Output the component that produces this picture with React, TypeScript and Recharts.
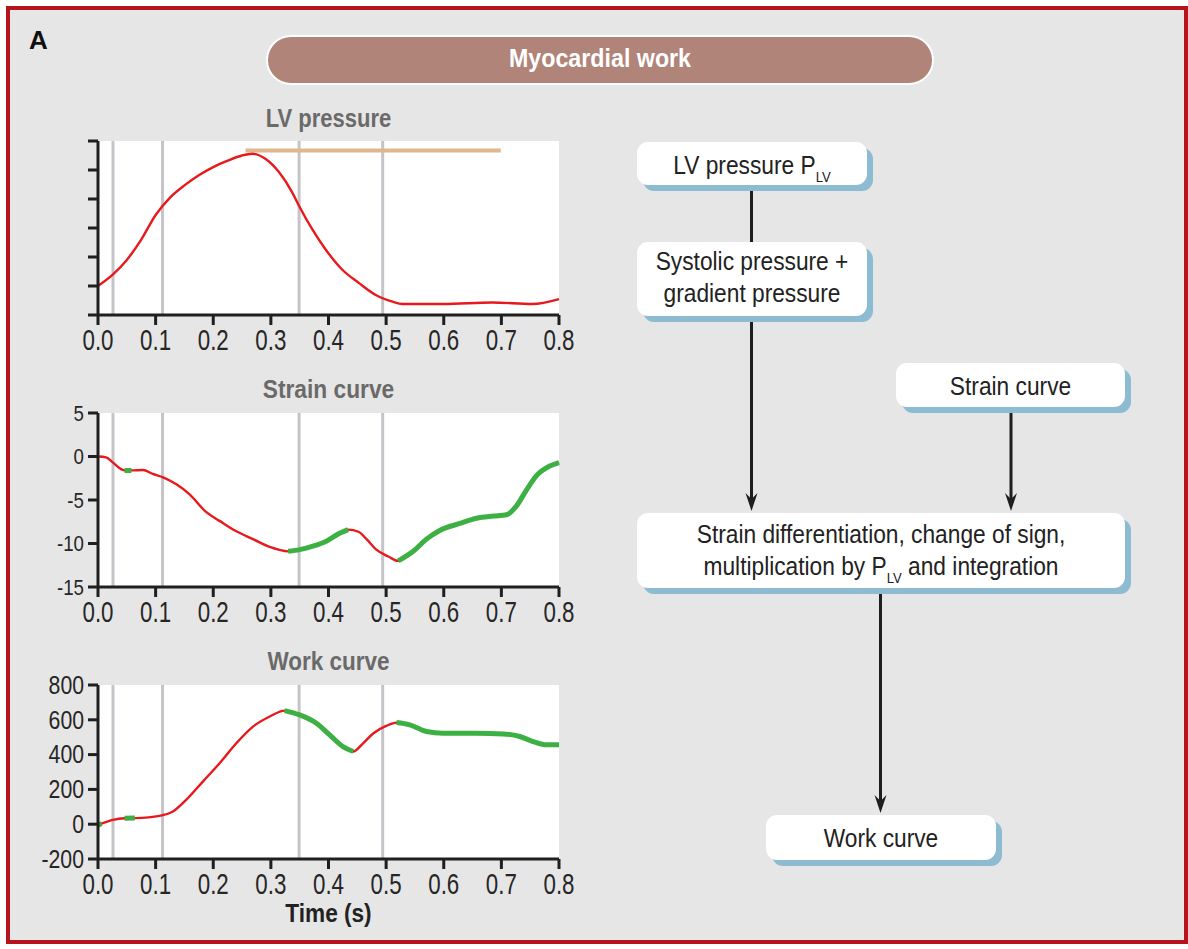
import React from 'react';
import { LineChart, Line, XAxis, YAxis, CartesianGrid, ReferenceLine } from 'recharts';

const SANS = "'Liberation Sans', Arial, sans-serif";
const RED = '#e8191c';
const GREEN = '#3cb043';
const GRAY = '#c4c4c9';
const INK = '#262626';

// shared time axis
const timeTicks = [0, 0.1, 0.2, 0.3, 0.4, 0.5, 0.6, 0.7, 0.8];
const eventTimes = [0.026, 0.112, 0.349, 0.494];
const ejectionBar = [0.256, 0.699];
const ejectionLevel = 5.67;

// LV pressure (arbitrary units, no labels)
const lvTime = [0, 0.025, 0.05, 0.075, 0.1, 0.125, 0.15, 0.175, 0.2, 0.225, 0.25, 0.268, 0.291, 0.314, 0.337, 0.349, 0.372, 0.395, 0.424, 0.453, 0.482, 0.511, 0.528, 0.6, 0.684, 0.754, 0.8];
const lvPressure = [1.0, 1.38, 1.9, 2.6, 3.45, 4.05, 4.47, 4.82, 5.1, 5.32, 5.5, 5.56, 5.38, 4.93, 4.23, 3.76, 2.95, 2.26, 1.56, 1.1, 0.69, 0.46, 0.38, 0.38, 0.43, 0.38, 0.55];
const pressureTicks = [0, 1, 2, 3, 4, 5, 6];

// strain (%)
const strainTime = [0, 0.014, 0.026, 0.04, 0.046, 0.058, 0.078, 0.095, 0.113, 0.136, 0.159, 0.188, 0.211, 0.24, 0.269, 0.298, 0.33, 0.35, 0.373, 0.397, 0.42, 0.434, 0.452, 0.466, 0.483, 0.504, 0.521, 0.547, 0.57, 0.593, 0.628, 0.657, 0.686, 0.709, 0.726, 0.744, 0.761, 0.784, 0.8];
const strainValue = [0, -0.1, -0.7, -1.45, -1.6, -1.6, -1.55, -2.0, -2.4, -3.2, -4.35, -6.4, -7.4, -8.6, -9.5, -10.4, -10.9, -10.7, -10.3, -9.7, -8.8, -8.4, -8.65, -9.5, -10.7, -11.5, -12.0, -10.9, -9.5, -8.5, -7.7, -7.1, -6.85, -6.7, -5.7, -3.8, -2.2, -1.1, -0.7];
const strainTicks = [-15, -10, -5, 0, 5];
const strainGreen = [[0.046, 0.058], [0.33, 0.434], [0.521, 0.8]];

// work (mmHg%)
const workTime = [0, 0.006, 0.026, 0.046, 0.064, 0.107, 0.13, 0.153, 0.182, 0.211, 0.24, 0.269, 0.298, 0.324, 0.35, 0.379, 0.402, 0.425, 0.443, 0.46, 0.478, 0.5, 0.518, 0.541, 0.57, 0.599, 0.657, 0.703, 0.732, 0.755, 0.779, 0.8];
const workValue = [-5, 3, 25, 34, 35, 48, 73, 140, 245, 350, 465, 561, 619, 653, 628, 580, 513, 446, 418, 465, 523, 565, 584, 571, 533, 523, 523, 519, 504, 475, 456, 456];
const workTicks = [-200, 0, 200, 400, 600, 800];
const workGreen = [[0, 0.006], [0.046, 0.064], [0.324, 0.443], [0.518, 0.8]];

const buildRows = (time: number[], value: number[], green: number[][]) =>
  time.map((t, i) => ({
    t,
    v: value[i],
    g: green.some(([a, b]) => t >= a - 1e-9 && t <= b + 1e-9) ? value[i] : null,
  }));

const lvRows = buildRows(lvTime, lvPressure, []);
const strainRows = buildRows(strainTime, strainValue, strainGreen);
const workRows = buildRows(workTime, workValue, workGreen);

const axisStroke = { stroke: '#1f1f1f', strokeWidth: 3 };

// condensed tick text: Liberation Sans squeezed horizontally
const NarrowTick = ({ x, y, label, fs, sx, anchor, dyEm }: any) => (
  <g transform={`translate(${x},${y})`}>
    <text transform={`scale(${sx},1)`} textAnchor={anchor} dy={`${dyEm}em`} fontSize={fs} fontFamily={SANS} fill={INK}>
      {label}
    </text>
  </g>
);

type PanelProps = {
  top: number;
  rows: any[];
  yDomain: number[];
  yTicks: number[];
  yFont: number;
  hideYLabels?: boolean;
  green?: boolean;
  bar?: boolean;
};

const Panel = ({ top, rows, yDomain, yTicks, yFont, hideYLabels, green, bar }: PanelProps) => (
  <div style={{ position: 'absolute', left: 19, top }}>
    <LineChart width={560} height={236} data={rows} margin={{ top: 16, right: 20, bottom: 0, left: 0 }}>
      <CartesianGrid fill="#ffffff" stroke="none" horizontal={false} vertical={false} />
      <XAxis
        dataKey="t"
        type="number"
        domain={[0, 0.8]}
        ticks={timeTicks}
        interval={0}
        tickSize={10}
        tickMargin={4}
        height={46}
        axisLine={axisStroke}
        tickLine={axisStroke}
        tick={(p: any) => (
          <NarrowTick x={p.x} y={p.y} label={Number(p.payload.value).toFixed(1)} fs={29} sx={0.77} anchor="middle" dyEm={0.71} />
        )}
      />
      <YAxis
        type="number"
        domain={yDomain}
        ticks={yTicks}
        interval={0}
        width={79}
        tickSize={10}
        tickMargin={4}
        axisLine={axisStroke}
        tickLine={axisStroke}
        tick={(p: any) => (
          <NarrowTick x={p.x} y={p.y} label={hideYLabels ? '' : String(p.payload.value)} fs={yFont} sx={0.85} anchor="end" dyEm={0.355} />
        )}
      />
      {eventTimes.map((t) => (
        <ReferenceLine key={t} x={t} stroke={GRAY} strokeWidth={3} zIndex={50} />
      ))}
      {bar && (
        <ReferenceLine
          segment={[{ x: ejectionBar[0], y: ejectionLevel }, { x: ejectionBar[1], y: ejectionLevel }]}
          stroke="#e0b68e"
          strokeWidth={4}
          zIndex={50}
        />
      )}
      <Line dataKey="v" type="monotone" stroke={RED} strokeWidth={2.4} dot={false} isAnimationActive={false} />
      {green && (
        <Line dataKey="g" type="monotone" stroke={GREEN} strokeWidth={5} dot={false} connectNulls={false} isAnimationActive={false} />
      )}
    </LineChart>
  </div>
);

type BoxProps = { x: number; y: number; w: number; h: number };
const Box = ({ x, y, w, h }: BoxProps) => (
  <g>
    <rect x={x + 6} y={y + 6} width={w} height={h} rx={11} fill="#8dbbd1" />
    <rect x={x} y={y} width={w} height={h} rx={11} fill="#ffffff" />
  </g>
);

const Arrow = ({ x, y1, y2, head }: { x: number; y1: number; y2: number; head?: boolean }) => (
  <g>
    <line x1={x} y1={y1} x2={x} y2={head ? y2 - 8 : y2} stroke="#1e1e1e" strokeWidth={3} />
    {head && <path d={`M ${x} ${y2} L ${x - 6} ${y2 - 18} L ${x} ${y2 - 12} L ${x + 6} ${y2 - 18} Z`} fill="#1e1e1e" />}
  </g>
);

type NTextProps = { x: number; y: number; size: number; sx: number; bold?: boolean; fill: string; children: React.ReactNode };
const NText = ({ x, y, size, sx, bold, fill, children }: NTextProps) => (
  <g transform={`translate(${x},${y}) scale(${sx},1)`}>
    <text x={0} y={0} fontFamily={SANS} fontSize={size} fontWeight={bold ? 'bold' : 'normal'} fill={fill} textAnchor="middle">
      {children}
    </text>
  </g>
);

const flow = { size: 26, sx: 0.875, fill: '#222' };
const sub = { fontSize: 15 };

export default function App() {
  return (
    <div style={{ position: 'absolute', left: 0, top: 0, width: 1188, height: 949, background: '#fff' }}>
      <div
        style={{
          position: 'absolute',
          left: 6,
          top: 6,
          width: 1182,
          height: 938,
          boxSizing: 'border-box',
          border: '4px solid #b5141d',
          background: '#e6e6e6',
        }}
      />
      <Panel top={125} rows={lvRows} yDomain={[0, 6]} yTicks={pressureTicks} yFont={22} hideYLabels bar />
      <Panel top={397} rows={strainRows} yDomain={[-15, 5]} yTicks={strainTicks} yFont={22} green />
      <Panel top={669} rows={workRows} yDomain={[-200, 800]} yTicks={workTicks} yFont={25} green />
      <svg width={1188} height={949} style={{ position: 'absolute', left: 0, top: 0, pointerEvents: 'none' }}>
        <text x={29} y={49} fontFamily={SANS} fontWeight="bold" fontSize={26} fill="#111">
          A
        </text>
        <rect x={267} y={36} width={666} height={48} rx={24} fill="#b08478" stroke="#ffffff" strokeWidth={2} />
        <NText x={600} y={67} size={25} sx={0.93} bold fill="#fff">
          Myocardial work
        </NText>

        <NText x={328.5} y={127} size={25} sx={0.88} bold fill="#6a6a6a">LV pressure</NText>
        <NText x={328.5} y={398} size={25} sx={0.91} bold fill="#6a6a6a">Strain curve</NText>
        <NText x={328.5} y={670} size={25} sx={0.9} bold fill="#6a6a6a">Work curve</NText>
        <NText x={328.5} y={922} size={26} sx={0.87} bold fill="#222">Time (s)</NText>

        <Arrow x={751.5} y1={190} y2={242} />
        <Arrow x={751.5} y1={322} y2={511} head />
        <Arrow x={1011} y1={412} y2={511} head />
        <Arrow x={880.5} y1={593} y2={813} head />

        <Box x={637} y={142} w={230} h={43} />
        <Box x={637} y={242} w={230} h={74} />
        <Box x={896} y={363} w={229} h={44} />
        <Box x={637} y={513} w={488} h={75} />
        <Box x={766} y={815} w={230} h={45} />

        <NText x={752} y={173.5} {...flow}>
          LV pressure P<tspan {...sub} dy={8}>LV</tspan>
        </NText>
        <NText x={752} y={269.5} {...flow}>Systolic pressure +</NText>
        <NText x={752} y={301.5} {...flow}>gradient pressure</NText>
        <NText x={1010.5} y={395} {...flow}>Strain curve</NText>
        <NText x={881} y={542.5} {...flow}>Strain differentiation, change of sign,</NText>
        <NText x={881} y={575} {...flow}>
          multiplication by P<tspan {...sub} dy={8}>LV</tspan>
          <tspan dy={-8}> and integration</tspan>
        </NText>
        <NText x={881} y={847} {...flow}>Work curve</NText>
      </svg>
    </div>
  );
}
